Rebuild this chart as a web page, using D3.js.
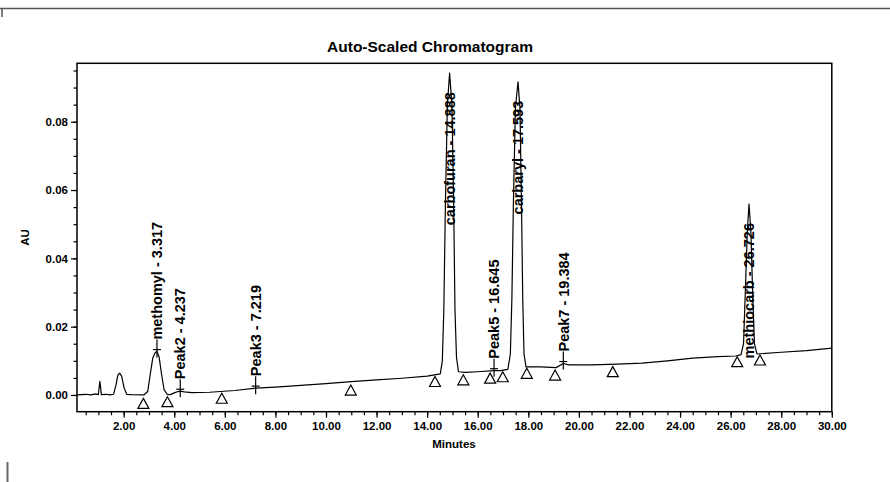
<!DOCTYPE html>
<html>
<head>
<meta charset="utf-8">
<script src="https://cdn.jsdelivr.net/npm/d3@7"></script>
<style>
  body { margin: 0; background: #fff; }
  svg { display: block; }
  text { font-family: "Liberation Sans", Arial, sans-serif; fill: #000; }
  .axis text { font-size: 11.5px; font-weight: bold; }
</style>
</head>
<body>
<script>
var w = 890;
var h = 482;

// retention time (min) and absorbance (AU)
var times = [0.16, 0.5, 0.7, 0.9, 1.0, 1.06, 1.12, 1.3, 1.45, 1.6, 1.7, 1.77, 1.84, 1.92, 2.02, 2.12, 2.3,
  2.8, 2.95, 3.05, 3.15, 3.25, 3.317, 3.40, 3.50, 3.60, 3.72, 3.85, 4.0, 4.15, 4.237, 4.4, 4.7, 5.4, 6.4, 7.219,
  8.0, 9.0, 10.0, 11.0, 12.0, 13.0, 14.0, 14.52, 14.60, 14.66, 14.72, 14.80, 14.888, 14.98, 15.05, 15.10, 15.16,
  15.24, 15.5, 16.0, 16.645, 16.9, 17.19, 17.29, 17.35, 17.41, 17.49, 17.593, 17.67, 17.73, 17.78, 17.83, 17.91,
  18.5, 19.1, 19.384, 19.6, 20.5, 21.5, 22.5, 23.5, 24.5, 25.5, 26.2, 26.41, 26.51, 26.58, 26.66, 26.726, 26.80,
  26.87, 26.94, 27.04, 28.0, 29.0, 30.0];
var signal = [0.0000, 0.0002, 0.0000, 0.0003, 0.0001, 0.0040, 0.0001, 0.0002, 0.0000, 0.0002, 0.0030, 0.0058, 0.0064, 0.0055, 0.0020, 0.0002, 0.0001,
  0.0000, 0.0010, 0.0060, 0.0108, 0.0124, 0.0127, 0.0112, 0.0060, 0.0015, 0.0002, 0.0001, 0.0006, 0.0010, 0.0011, 0.0009, 0.0007, 0.0008, 0.0013, 0.0020,
  0.0023, 0.0028, 0.0033, 0.0039, 0.0044, 0.0049, 0.0055, 0.0062, 0.0100, 0.0250, 0.0550, 0.0850, 0.0942, 0.0850, 0.0550, 0.0250, 0.0110,
  0.0068, 0.0066, 0.0068, 0.0071, 0.0071, 0.0075, 0.0120, 0.0280, 0.0560, 0.0840, 0.0917, 0.0840, 0.0560, 0.0280, 0.0120, 0.0082,
  0.0082, 0.0080, 0.0092, 0.0088, 0.0088, 0.0090, 0.0093, 0.0100, 0.0108, 0.0112, 0.0114, 0.0118, 0.0150, 0.0300, 0.0480, 0.0559, 0.0480,
  0.0300, 0.0150, 0.0120, 0.0125, 0.0130, 0.0137];

// named / integrated peaks
var peakNames = ["methomyl", "Peak2", "Peak3", "carbofuran", "Peak5", "carbaryl", "Peak7", "methiocarb"];
var peakTimes = [3.317, 4.237, 7.219, 14.888, 16.645, 17.593, 19.384, 26.726];

// peak start / end markers (triangles)
var markTimes = [2.78, 3.73, 5.88, 10.98, 14.31, 15.43, 16.49, 16.99, 17.94, 19.06, 21.34, 26.26, 27.16];
var markValues = [-0.0010, -0.0005, 0.0005, 0.0029, 0.0054, 0.0059, 0.0064, 0.0068, 0.0078, 0.0073, 0.0083, 0.0112, 0.0117];

var xTicks = d3.range(2, 30.01, 2);
var yTicks = [0, 0.02, 0.04, 0.06, 0.08];

var plotLeft = 77, plotRight = 831.8, plotTop = 63.3, plotBottom = 411.7;

var xScale = d3.scaleLinear()
  .domain([0.155, 30])
  .range([plotLeft, plotRight]);

var yScale = d3.scaleLinear()
  .domain([-0.0049, 0.0971])
  .range([plotBottom, plotTop]);

var svg = d3.select("body")
  .append("svg")
  .attr("width", w)
  .attr("height", h);

// scanned page edges
svg.append("line")
  .attr("x1", 0).attr("x2", w).attr("y1", 8.5).attr("y2", 8.5)
  .attr("stroke", "#555").attr("stroke-width", 1.5);
svg.append("line")
  .attr("x1", 2).attr("x2", 2).attr("y1", 8.5).attr("y2", 17)
  .attr("stroke", "#555").attr("stroke-width", 1.5);
svg.append("line")
  .attr("x1", 7.5).attr("x2", 7.5).attr("y1", 462).attr("y2", 482)
  .attr("stroke", "#666").attr("stroke-width", 2);

svg.append("text")
  .attr("x", 430)
  .attr("y", 52)
  .attr("text-anchor", "middle")
  .style("font-size", "15.5px")
  .style("font-weight", "bold")
  .text("Auto-Scaled Chromatogram");

// minor ticks
svg.append("g")
  .attr("class", "axis")
  .attr("transform", "translate(0," + plotBottom + ")")
  .call(d3.axisBottom(xScale).tickValues(d3.range(0.5, 30.01, 0.5)).tickSize(3.5).tickFormat(""))
  .call(function(g) { g.select(".domain").remove(); });

svg.append("g")
  .attr("class", "axis")
  .attr("transform", "translate(" + plotLeft + ",0)")
  .call(d3.axisLeft(yScale).tickValues(d3.range(0, 0.0951, 0.005)).tickSize(3.5).tickFormat(""))
  .call(function(g) { g.select(".domain").remove(); });

// major ticks and labels
var xAxis = d3.axisBottom(xScale).tickValues(xTicks).tickSize(6).tickPadding(4).tickFormat(d3.format(".2f"));
var yAxis = d3.axisLeft(yScale).tickValues(yTicks).tickSize(6).tickPadding(3).tickFormat(d3.format(".2f"));

svg.append("g")
  .attr("class", "axis")
  .attr("transform", "translate(0," + plotBottom + ")")
  .call(xAxis)
  .call(function(g) { g.select(".domain").remove(); });

svg.append("g")
  .attr("class", "axis")
  .attr("transform", "translate(" + plotLeft + ",0)")
  .call(yAxis)
  .call(function(g) { g.select(".domain").remove(); });

svg.selectAll(".axis line").attr("stroke", "#000").attr("stroke-width", 1.2);

svg.append("rect")
  .attr("x", plotLeft)
  .attr("y", plotTop)
  .attr("width", plotRight - plotLeft)
  .attr("height", plotBottom - plotTop)
  .attr("fill", "none")
  .attr("stroke", "#000")
  .attr("stroke-width", 1.5);

svg.append("text")
  .attr("transform", "translate(29," + ((plotTop + plotBottom) / 2) + ") rotate(-90)")
  .attr("text-anchor", "middle")
  .style("font-size", "11.5px")
  .style("font-weight", "bold")
  .text("AU");

svg.append("text")
  .attr("x", 454)
  .attr("y", 448)
  .attr("text-anchor", "middle")
  .style("font-size", "11.5px")
  .style("font-weight", "bold")
  .text("Minutes");

// trace
var trace = d3.zip(times, signal);

var line = d3.line()
  .x(function(d) { return xScale(d[0]); })
  .y(function(d) { return yScale(d[1]); });

svg.append("path")
  .datum(trace)
  .attr("d", line)
  .attr("fill", "none")
  .attr("stroke", "#000")
  .attr("stroke-width", 1.2)
  .attr("stroke-linejoin", "round");

// triangles at peak start / end
svg.selectAll(".mark")
  .data(d3.zip(markTimes, markValues))
  .enter()
  .append("path")
  .attr("class", "mark")
  .attr("d", function(d) {
    var x = xScale(d[0]), y = yScale(d[1]);
    return "M" + x + "," + y + "L" + (x + 5.5) + "," + (y + 10) + "L" + (x - 5.5) + "," + (y + 10) + "Z";
  })
  .attr("fill", "#fff")
  .attr("stroke", "#000")
  .attr("stroke-width", 1.2);

// peak labels
var bisect = d3.bisector(function(d) { return d; }).left;
function valueAt(t) {
  var i = bisect(times, t);
  if (i <= 0) return signal[0];
  if (i >= times.length) return signal[signal.length - 1];
  var t0 = times[i - 1], t1 = times[i];
  return signal[i - 1] + (signal[i] - signal[i - 1]) * (t - t0) / (t1 - t0);
}

var peaks = d3.zip(peakNames, peakTimes);

var labels = svg.selectAll(".peak")
  .data(peaks)
  .enter()
  .append("g")
  .attr("class", "peak");

labels.each(function(d) {
  var g = d3.select(this);
  var x = xScale(d[1]);
  var y = yScale(valueAt(d[1]));
  var t = g.append("text")
    .attr("dy", "0.36em")
    .style("font-size", "14.5px")
    .style("font-weight", "bold")
    .text(d[0] + " - " + d[1].toFixed(3));
  var len = t.node().getComputedTextLength();
  if (y - 12 - len < plotTop + 4) {
    // tall peak: label sits on the peak itself
    t.attr("text-anchor", "end")
      .attr("transform", "translate(" + x + "," + (y + 19) + ") rotate(-90)");
  } else {
    t.attr("text-anchor", "start")
      .attr("transform", "translate(" + x + "," + (y - 12) + ") rotate(-90)");
    g.append("line")
      .attr("x1", x).attr("x2", x)
      .attr("y1", y - 12).attr("y2", y + 6)
      .attr("stroke", "#000").attr("stroke-width", 1.2);
    g.append("line")
      .attr("x1", x - 4).attr("x2", x + 4)
      .attr("y1", y - 2).attr("y2", y - 2)
      .attr("stroke", "#000").attr("stroke-width", 1.2);
  }
});
</script>
</body>
</html>
